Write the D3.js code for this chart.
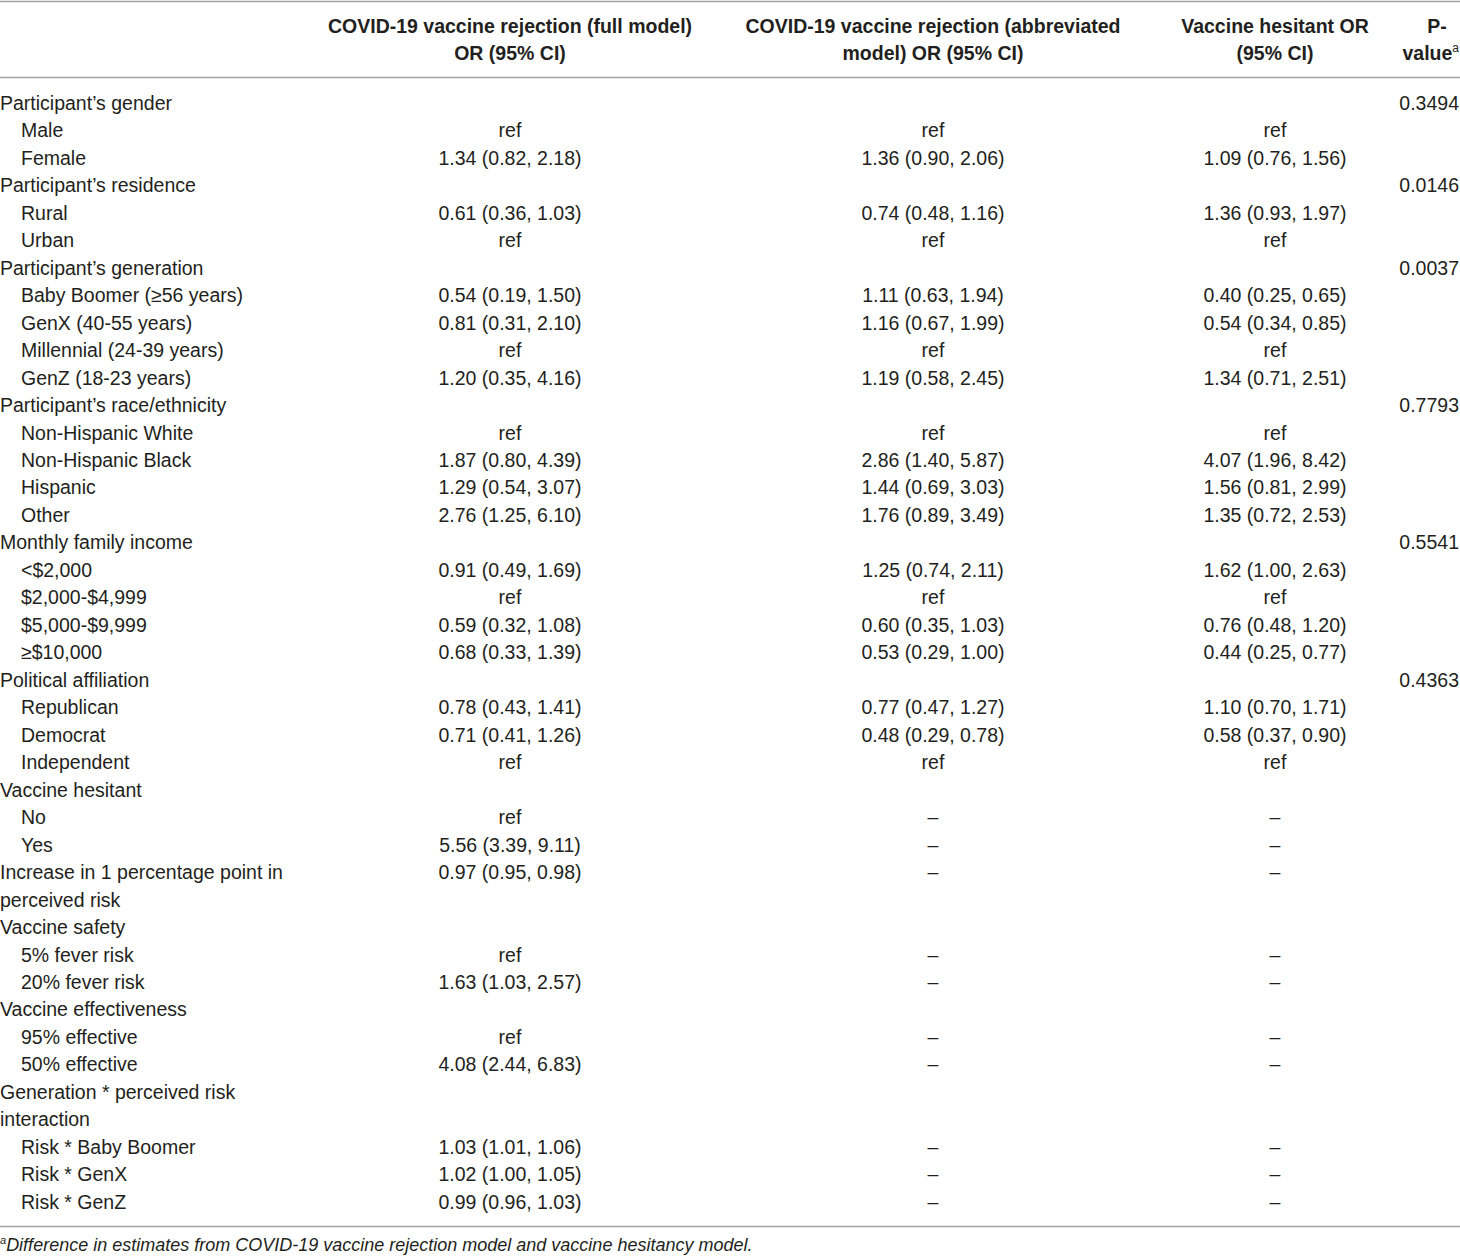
<!DOCTYPE html>
<html>
<head>
<meta charset="utf-8">
<script src="https://cdn.jsdelivr.net/npm/d3@7"></script>
<style>
  body { margin: 0; background: #fff; }
  svg text { font-family: "Liberation Sans", Arial, sans-serif; fill: #231f20; }
  .head { font-weight: bold; }
  .rule { stroke: #a0a0a0; stroke-width: 1.6; }
</style>
</head>
<body>
<svg id="tbl" width="1460" height="1257"></svg>
<script>
// Table data
const headers = [
  ["COVID-19 vaccine rejection (full model)", "OR (95% CI)"],
  ["COVID-19 vaccine rejection (abbreviated", "model) OR (95% CI)"],
  ["Vaccine hesitant OR", "(95% CI)"],
  ["P-", "value"]
];

const rowLabels = [
  "Participant’s gender", "Male", "Female",
  "Participant’s residence", "Rural", "Urban",
  "Participant’s generation", "Baby Boomer (≥56 years)", "GenX (40-55 years)", "Millennial (24-39 years)", "GenZ (18-23 years)",
  "Participant’s race/ethnicity", "Non-Hispanic White", "Non-Hispanic Black", "Hispanic", "Other",
  "Monthly family income", "<$2,000", "$2,000-$4,999", "$5,000-$9,999", "≥$10,000",
  "Political affiliation", "Republican", "Democrat", "Independent",
  "Vaccine hesitant", "No", "Yes",
  "Increase in 1 percentage point in", "perceived risk",
  "Vaccine safety", "5% fever risk", "20% fever risk",
  "Vaccine effectiveness", "95% effective", "50% effective",
  "Generation * perceived risk", "interaction",
  "Risk * Baby Boomer", "Risk * GenX", "Risk * GenZ"
];

// rows that sit at the left margin (group titles and their wrapped lines)
const groupRows = [
  "Participant’s gender", "Participant’s residence", "Participant’s generation",
  "Participant’s race/ethnicity", "Monthly family income", "Political affiliation",
  "Vaccine hesitant", "Increase in 1 percentage point in", "perceived risk",
  "Vaccine safety", "Vaccine effectiveness", "Generation * perceived risk", "interaction"
];

const fullModel = [
  "", "ref", "1.34 (0.82, 2.18)",
  "", "0.61 (0.36, 1.03)", "ref",
  "", "0.54 (0.19, 1.50)", "0.81 (0.31, 2.10)", "ref", "1.20 (0.35, 4.16)",
  "", "ref", "1.87 (0.80, 4.39)", "1.29 (0.54, 3.07)", "2.76 (1.25, 6.10)",
  "", "0.91 (0.49, 1.69)", "ref", "0.59 (0.32, 1.08)", "0.68 (0.33, 1.39)",
  "", "0.78 (0.43, 1.41)", "0.71 (0.41, 1.26)", "ref",
  "", "ref", "5.56 (3.39, 9.11)",
  "0.97 (0.95, 0.98)", "",
  "", "ref", "1.63 (1.03, 2.57)",
  "", "ref", "4.08 (2.44, 6.83)",
  "", "",
  "1.03 (1.01, 1.06)", "1.02 (1.00, 1.05)", "0.99 (0.96, 1.03)"
];

const abbrModel = [
  "", "ref", "1.36 (0.90, 2.06)",
  "", "0.74 (0.48, 1.16)", "ref",
  "", "1.11 (0.63, 1.94)", "1.16 (0.67, 1.99)", "ref", "1.19 (0.58, 2.45)",
  "", "ref", "2.86 (1.40, 5.87)", "1.44 (0.69, 3.03)", "1.76 (0.89, 3.49)",
  "", "1.25 (0.74, 2.11)", "ref", "0.60 (0.35, 1.03)", "0.53 (0.29, 1.00)",
  "", "0.77 (0.47, 1.27)", "0.48 (0.29, 0.78)", "ref",
  "", "–", "–",
  "–", "",
  "", "–", "–",
  "", "–", "–",
  "", "",
  "–", "–", "–"
];

const hesitantOR = [
  "", "ref", "1.09 (0.76, 1.56)",
  "", "1.36 (0.93, 1.97)", "ref",
  "", "0.40 (0.25, 0.65)", "0.54 (0.34, 0.85)", "ref", "1.34 (0.71, 2.51)",
  "", "ref", "4.07 (1.96, 8.42)", "1.56 (0.81, 2.99)", "1.35 (0.72, 2.53)",
  "", "1.62 (1.00, 2.63)", "ref", "0.76 (0.48, 1.20)", "0.44 (0.25, 0.77)",
  "", "1.10 (0.70, 1.71)", "0.58 (0.37, 0.90)", "ref",
  "", "–", "–",
  "–", "",
  "", "–", "–",
  "", "–", "–",
  "", "",
  "–", "–", "–"
];

const pValues = [
  "0.3494", "", "",
  "0.0146", "", "",
  "0.0037", "", "", "", "",
  "0.7793", "", "", "", "",
  "0.5541", "", "", "", "",
  "0.4363", "", "", "",
  "", "", "",
  "", "",
  "", "", "",
  "", "", "",
  "", "",
  "", "", ""
];

const footnote = "Difference in estimates from COVID-19 vaccine rejection model and vaccine hesitancy model.";

const svg = d3.select("#tbl");
const W = 1460;
const fontSize = 19.5;

// row positions
const y = d3.scaleBand()
  .domain(d3.range(rowLabels.length))
  .range([89.3, 1215.7])
  .paddingInner(0);

// column anchors: label column, three centred value columns, right-aligned p column
const colX = d3.scaleOrdinal()
  .domain(["label", "full", "abbr", "hes", "p"])
  .range([0, 510, 933, 1275, 1459]);

// rules
const rules = [1.5, 77.5, 1226.5];
svg.selectAll("line.rule")
  .data(rules)
  .join("line")
  .attr("class", "rule")
  .attr("x1", 0).attr("x2", W)
  .attr("y1", d => d).attr("y2", d => d);

// header
const headCols = ["full", "abbr", "hes", "p"];
const headX = { full: 510, abbr: 933, hes: 1275, p: 1437 };
headers.forEach((lines, i) => {
  const isP = i === 3;
  lines.forEach((ln, j) => {
    const last = isP && j === 1;
    const t = svg.append("text")
      .attr("class", "head")
      .attr("font-size", fontSize)
      .attr("text-anchor", last ? "end" : "middle")
      .attr("x", last ? 1459 : headX[headCols[i]])
      .attr("y", 33 + j * 26.5);
    t.append("tspan").text(ln);
    if (last) {
      t.append("tspan")
        .attr("font-size", 12)
        .attr("font-weight", "normal")
        .attr("dy", -8)
        .text("a");
    }
  });
});

// body
const body = svg.append("g");
const rows = body.selectAll("g.row")
  .data(rowLabels.map((label, i) => ({
    i, label,
    full: fullModel[i], abbr: abbrModel[i], hes: hesitantOR[i], p: pValues[i]
  })))
  .join("g")
  .attr("class", "row")
  .attr("transform", d => `translate(0,${y(d.i) + y.bandwidth() / 2 + 6.8})`);

rows.append("text")
  .attr("font-size", fontSize)
  .attr("x", d => colX("label") + (groupRows.includes(d.label) ? 0 : 21))
  .text(d => d.label);

["full", "abbr", "hes"].forEach(k => {
  rows.append("text")
    .attr("font-size", fontSize)
    .attr("text-anchor", "middle")
    .attr("x", colX(k))
    .text(d => d[k]);
});

rows.append("text")
  .attr("font-size", fontSize)
  .attr("text-anchor", "end")
  .attr("x", colX("p"))
  .text(d => d.p);

// footnote
const fn = svg.append("text")
  .attr("x", 0)
  .attr("y", 1251)
  .attr("font-size", 18)
  .attr("font-style", "italic");
fn.append("tspan").attr("font-size", 11).attr("dy", -7).text("a");
fn.append("tspan").attr("dy", 7).text(footnote);
</script>
</body>
</html>
